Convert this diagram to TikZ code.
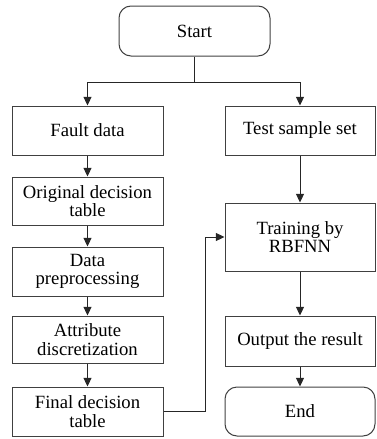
\documentclass[tikz,border=0pt]{standalone}
\usepackage{fontspec}
\setmainfont{Liberation Serif}
\usetikzlibrary{arrows.meta}

\tikzset{
  procbox/.style={draw=black!75, line width=0.75pt, inner sep=0pt, align=center,
    minimum width=151*0.75pt, font=\fontsize{14}{14}\selectfont},
  termbox/.style={procbox, rounded corners=9pt},
  flow/.style={draw=black!85, line width=0.75pt, -{Triangle[length=6.5pt,width=6pt]}}
}

\begin{document}
\begin{tikzpicture}[x=0.75pt,y=0.75pt,yscale=-1,xscale=1]
  \useasboundingbox (0,0) rectangle (376,439);

  % terminals
  \node[termbox, minimum height=50*0.75pt] (start) at (194.5,31) {Start};
  \node[termbox, minimum width=150*0.75pt, minimum height=49*0.75pt] (end) at (300,411.5) {End};

  % left column
  \node[procbox, minimum height=49*0.75pt] (fault) at (87.5,130.5) {Fault data};
  \node[procbox, minimum height=48*0.75pt] (orig) at (87.5,201) {Original decision\\table};
  \node[procbox, minimum height=49*0.75pt] (prep) at (87.5,271.5) {Data\\preprocessing};
  \node[procbox, minimum height=47*0.75pt] (discr) at (87.5,339.5) {Attribute\\discretization};
  \node[procbox, minimum height=49*0.75pt] (final) at (87.5,411.5) {Final decision\\table};

  % right column
  \node[procbox, minimum width=150*0.75pt, minimum height=49*0.75pt] (test) at (300,130.5) {Test sample set};
  \node[procbox, minimum width=150*0.75pt, minimum height=68*0.75pt] (train) at (300,237) {Training by\\RBFNN};
  \node[procbox, minimum width=150*0.75pt, minimum height=50*0.75pt] (output) at (300,341) {Output the result};

  % branch point below start
  \coordinate (split) at (194.5,82);
  \draw[black!85, line width=0.75pt] (start.south) -- (split);
  \draw[flow] (split) -| (fault.north);
  \draw[flow] (split) -| (test.north);

  \draw[flow] (fault) -- (orig);
  \draw[flow] (orig) -- (prep);
  \draw[flow] (prep) -- (discr);
  \draw[flow] (discr) -- (final);

  % feedback of the final table into training
  \coordinate (bend) at (205,411.5);
  \draw[flow] (final.east) -- (bend) |- (train.west);

  \draw[flow] (test) -- (train);
  \draw[flow] (train) -- (output);
  \draw[flow] (output) -- (end);
\end{tikzpicture}
\end{document}
